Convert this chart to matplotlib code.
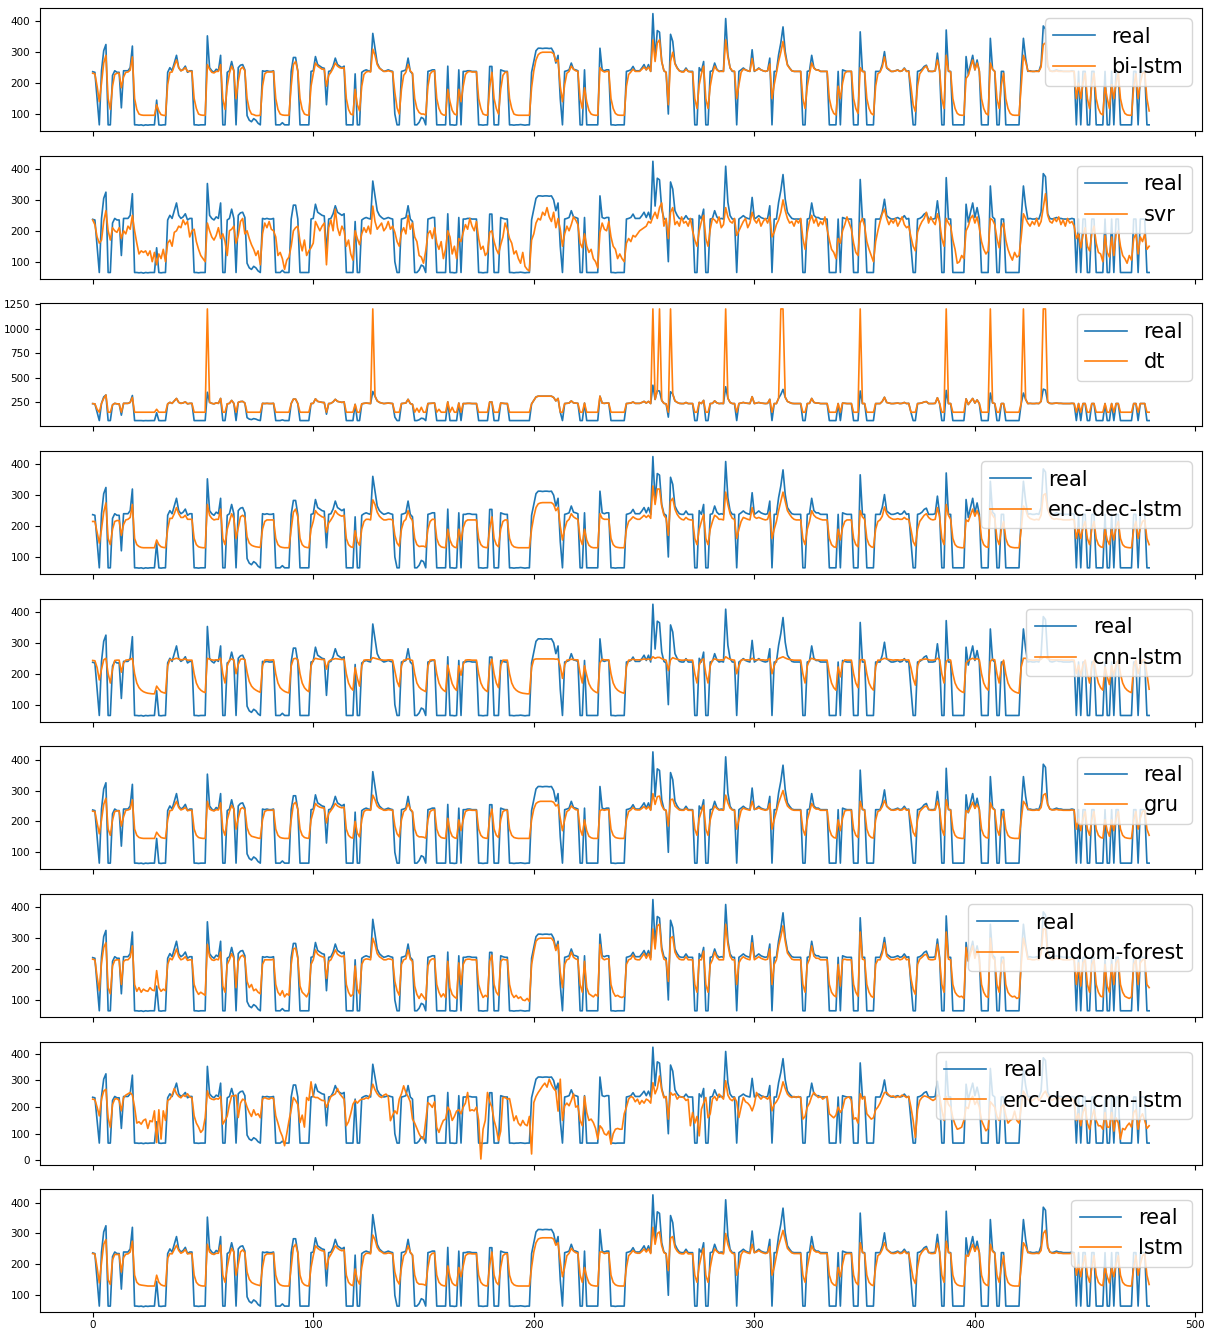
import numpy as np
import matplotlib
matplotlib.use("Agg")
import matplotlib.pyplot as plt
from matplotlib.ticker import MultipleLocator

# observed series (shared by every panel)
real = [
    237,235,150,65,240,305,325,65,65,225,240,235,235,120,240,240,240,250,320,65,
    65,64,65,63,65,64,65,65,65,145,65,64,65,65,235,250,240,265,290,250,
    240,245,255,235,240,240,65,65,64,65,65,65,353,250,240,235,245,240,290,65,
    65,235,240,270,240,65,250,258,260,243,95,80,75,85,80,70,65,240,238,240,
    238,238,240,65,65,65,72,65,65,65,238,283,283,238,65,65,65,65,65,238,
    240,286,260,255,250,248,130,238,240,255,281,260,255,250,255,65,65,65,65,230,
    65,65,235,240,243,240,238,361,313,265,250,243,238,240,243,240,238,100,65,65,
    238,240,243,281,238,230,65,65,73,89,85,65,238,240,243,243,65,65,65,65,
    65,255,65,65,64,65,243,65,238,238,240,240,238,238,238,65,65,64,65,65,
    254,254,65,65,65,243,240,238,238,65,65,64,65,65,66,65,64,65,65,235,
    270,305,313,313,312,313,313,312,313,300,265,290,150,65,238,240,243,265,245,243,
    240,65,65,243,65,65,65,65,65,65,313,243,240,243,243,65,65,64,65,65,
    65,65,238,240,243,254,240,240,240,249,260,243,260,238,425,280,370,365,270,240,
    235,100,358,335,265,250,240,238,238,249,238,238,238,65,65,250,238,270,65,65,
    238,240,265,245,238,240,238,409,292,249,238,238,65,238,243,249,243,240,238,308,
    238,243,249,243,240,238,240,281,65,238,238,292,330,382,302,260,249,240,238,238,
    238,238,65,65,238,240,290,250,243,243,238,238,238,238,65,65,65,65,238,65,
    243,240,238,238,238,65,65,65,366,238,238,65,65,65,65,238,238,238,260,302,
    249,243,238,238,240,243,238,240,249,238,240,150,65,65,238,240,245,254,258,238,
    238,238,240,297,238,65,65,372,238,238,65,65,65,65,65,65,286,228,260,290,
    243,275,238,65,65,65,65,345,245,238,65,65,238,238,65,65,65,65,65,65,
    65,240,345,281,238,240,238,238,240,238,260,385,375,255,240,238,240,243,240,240,
    238,238,238,238,240,238,65,238,65,238,238,65,65,238,238,65,65,65,65,238,
    65,65,238,65,238,238,65,65,65,65,65,65,238,238,65,238,238,238,65,65,
]

bi_lstm = [
    232,230,190,140,200,265,290,150,115,190,228,232,232,185,220,235,236,242,285,150,
    115,100,97,96,96,96,96,96,96,130,110,98,96,95,195,235,236,255,275,250,
    240,243,250,238,238,238,150,118,100,97,96,96,260,245,235,233,238,238,260,150,
    115,190,232,255,240,150,205,245,252,240,150,115,100,98,95,95,96,190,230,236,
    236,236,238,150,115,100,97,96,96,96,190,260,270,240,150,115,100,97,96,190,
    230,265,255,250,245,245,190,225,235,248,265,255,250,248,250,150,115,100,97,180,
    130,110,190,228,236,238,236,310,290,260,248,243,238,238,240,238,236,170,120,100,
    180,225,235,260,240,232,150,118,105,100,100,97,190,230,238,240,150,118,102,97,
    96,180,140,112,100,97,180,140,190,228,236,238,236,236,236,150,118,100,97,96,
    185,235,150,118,100,180,225,235,236,150,118,100,97,96,96,96,96,96,96,185,
    240,275,292,298,300,300,300,300,300,295,270,275,190,140,195,232,238,255,245,240,
    238,150,118,185,140,112,100,97,96,96,250,240,236,238,238,150,118,102,97,96,
    96,96,190,228,236,245,238,238,238,245,252,243,252,238,340,270,330,340,270,240,
    235,130,270,300,262,248,240,236,236,245,238,236,236,150,118,195,230,255,150,118,
    190,230,255,243,238,238,238,340,285,250,240,238,150,195,235,245,243,240,238,280,
    240,242,247,243,240,238,240,262,150,195,232,270,300,335,290,258,248,240,238,238,
    238,238,150,118,190,230,265,248,243,242,238,238,238,238,150,118,102,97,190,150,
    200,232,238,238,238,150,118,102,250,238,236,150,118,102,97,190,230,236,252,285,
    250,245,238,238,240,242,238,240,247,238,238,190,130,108,190,230,240,250,255,240,
    238,238,240,275,240,150,118,290,240,236,150,118,102,97,96,96,215,225,250,275,
    243,265,240,150,118,102,97,265,245,238,150,118,195,232,150,118,102,97,96,96,
    96,190,290,270,240,238,238,238,238,238,252,325,330,260,240,238,238,240,238,238,
    238,238,238,238,238,238,150,200,150,200,232,150,118,195,232,150,118,102,97,190,
    150,118,195,150,200,232,150,118,102,97,96,96,190,230,150,200,232,236,150,110,
]

svr = [
    235,220,180,160,170,230,265,200,170,210,200,195,210,175,200,190,215,205,250,200,
    160,125,135,130,135,120,135,100,130,90,125,110,140,100,160,170,150,195,200,215,
    210,235,220,230,180,200,205,165,140,120,110,100,225,200,180,170,185,210,175,190,
    165,120,200,205,215,160,185,230,240,190,200,175,155,140,120,135,90,190,225,210,
    230,205,200,180,120,130,110,75,105,115,150,200,210,215,165,135,170,120,135,145,
    160,230,215,200,215,225,90,210,235,200,270,210,185,215,200,150,170,125,105,200,
    175,155,190,210,195,215,190,280,230,205,215,225,200,210,230,205,215,195,165,150,
    195,210,190,250,205,225,180,165,120,115,95,135,190,200,175,210,160,140,165,110,
    140,200,180,125,150,110,175,165,195,220,205,240,215,200,230,175,140,150,120,130,
    195,200,165,140,125,155,180,225,205,175,160,125,135,110,95,130,85,75,70,170,
    190,225,240,235,260,250,275,245,230,260,210,240,205,150,190,215,200,220,245,235,
    220,160,145,190,150,130,140,110,100,80,195,225,205,200,230,180,150,140,110,125,
    110,100,160,175,165,185,180,190,200,205,210,215,230,225,245,260,240,275,290,215,
    240,175,260,275,220,230,215,245,225,230,215,240,200,170,150,200,230,250,175,150,
    205,240,235,225,245,210,220,275,245,230,225,240,185,200,215,230,240,210,225,260,
    235,225,240,215,230,240,225,245,180,195,220,235,260,300,265,240,225,230,215,235,
    225,240,175,140,195,230,250,225,240,215,230,220,245,205,170,140,130,110,175,160,
    200,220,245,225,205,160,130,120,225,240,215,165,140,120,100,165,200,230,255,270,
    240,220,235,225,240,215,230,245,220,210,215,180,150,135,195,215,230,240,260,225,
    245,230,220,255,230,175,150,240,225,215,170,140,95,100,120,110,200,215,240,250,
    225,245,210,165,140,125,135,240,235,220,175,145,210,225,170,140,120,105,130,115,
    120,180,255,240,225,215,230,220,240,215,230,275,320,250,230,225,240,230,245,220,
    235,215,240,225,230,215,175,190,145,185,210,150,135,190,215,160,130,125,100,185,
    130,115,180,120,190,200,150,120,110,95,120,105,175,190,125,180,165,190,140,150,
]

dt = [
    237,235,180,150,240,290,325,150,150,225,240,235,235,150,240,240,240,250,300,150,
    150,150,150,150,150,150,150,150,150,180,150,150,150,150,235,250,240,265,290,250,
    240,245,255,235,240,240,150,150,150,150,150,150,1200,250,240,235,245,240,290,150,
    150,235,240,270,240,150,250,258,260,243,150,150,150,150,150,150,150,240,238,240,
    238,238,240,150,150,150,150,150,150,150,238,283,283,238,150,150,150,150,150,238,
    240,286,260,255,250,248,150,238,240,255,281,260,255,250,255,150,150,150,150,230,
    150,150,235,240,243,240,238,1200,313,265,250,243,238,240,243,240,238,150,150,150,
    238,240,243,281,238,230,150,190,150,200,150,150,238,240,243,243,150,180,150,150,
    150,255,150,200,150,150,243,150,238,238,240,240,238,238,238,150,150,150,150,150,
    254,254,150,150,150,243,240,238,238,150,150,150,150,150,150,150,150,150,150,235,
    270,305,313,313,312,313,313,312,313,300,265,290,150,150,238,240,243,265,245,243,
    240,150,150,243,150,150,150,150,150,150,313,243,240,243,243,150,150,150,150,150,
    150,150,238,240,243,254,240,240,240,249,260,243,260,238,1200,280,370,1200,270,240,
    235,150,1200,335,265,250,240,238,238,249,238,238,238,150,150,250,238,270,150,150,
    238,240,265,245,238,240,238,1200,292,249,238,238,150,238,243,249,243,240,238,308,
    238,243,249,243,240,238,240,281,150,238,238,292,1200,1200,302,260,249,240,238,238,
    238,238,150,150,238,240,290,250,243,243,238,238,238,238,150,150,150,150,238,150,
    243,240,238,238,238,150,150,150,1200,238,238,150,150,150,150,238,238,238,260,302,
    249,243,238,238,240,243,238,240,249,238,240,150,150,150,238,240,245,254,258,238,
    238,238,240,297,238,150,150,1200,238,238,150,150,150,150,150,150,286,228,260,290,
    243,275,238,150,150,150,150,1200,245,238,150,150,238,238,150,150,150,150,150,150,
    150,240,1200,281,238,240,238,238,240,238,260,1200,1200,255,240,238,240,243,240,240,
    238,238,238,238,240,238,150,238,150,238,238,150,150,238,238,150,150,150,150,238,
    150,150,238,150,238,238,150,150,150,150,150,150,238,238,150,238,238,238,150,150,
]

enc_dec_lstm = [
    215,215,180,145,190,245,275,160,140,190,215,218,218,170,205,220,222,228,270,160,
    140,134,131,130,130,130,130,130,130,155,140,133,131,130,190,225,225,240,260,240,
    228,228,235,222,222,222,160,140,133,131,130,130,270,235,225,220,222,222,255,160,
    140,190,215,240,225,160,195,230,235,228,165,145,138,135,133,132,131,190,215,220,
    220,220,220,160,140,133,131,130,130,130,190,245,255,230,160,140,133,131,130,190,
    215,250,240,235,230,228,180,210,220,232,250,240,235,232,235,160,140,133,131,185,
    150,138,190,215,222,222,220,285,270,245,232,225,220,220,222,222,220,170,145,135,
    190,215,222,250,228,218,160,140,134,135,135,132,190,215,222,222,160,140,133,131,
    130,190,155,138,132,130,190,155,195,215,220,220,220,220,220,160,140,133,131,130,
    190,230,160,140,133,190,215,220,220,160,140,133,131,130,130,130,130,130,130,190,
    230,260,272,275,276,276,276,276,276,270,250,260,200,155,190,215,222,240,230,225,
    222,160,140,190,155,138,132,130,130,130,240,225,222,222,222,160,140,133,131,130,
    130,130,190,215,222,230,225,222,222,228,235,228,235,225,330,270,320,320,265,235,
    225,170,280,290,255,238,228,222,220,228,222,220,220,160,140,190,215,238,160,140,
    190,215,235,230,222,222,220,310,270,240,225,222,160,190,215,228,225,222,220,260,
    230,225,228,225,222,220,222,245,160,190,215,250,280,310,280,250,238,228,222,220,
    220,220,160,140,190,215,250,235,228,225,222,220,220,220,160,140,133,131,190,155,
    195,215,220,220,220,160,140,133,250,230,222,160,140,133,131,190,215,220,232,262,
    240,230,225,222,222,224,222,222,228,222,222,190,150,136,190,215,225,235,240,228,
    222,220,222,260,230,160,140,270,235,222,160,140,133,131,130,130,220,215,235,255,
    232,250,230,160,140,133,131,250,235,225,160,140,190,215,160,140,133,131,130,130,
    130,190,265,255,232,225,222,220,222,220,235,300,305,255,235,225,222,224,222,222,
    220,220,220,220,222,220,160,195,160,195,215,160,140,190,215,160,140,133,131,190,
    155,140,190,155,195,215,160,140,133,131,130,130,190,215,160,195,215,220,160,140,
]

cnn_lstm = [
    243,242,220,180,215,245,250,200,170,215,243,244,244,205,235,244,245,246,250,200,
    170,155,147,142,139,137,136,135,135,160,150,142,139,137,225,246,245,248,250,248,
    245,246,248,244,244,244,200,170,155,147,142,139,250,247,245,244,245,245,250,200,
    170,225,244,248,245,200,230,247,248,246,205,175,160,152,147,143,140,225,244,245,
    244,244,245,200,170,155,148,143,140,138,225,248,250,246,200,170,155,147,142,225,
    244,250,248,247,246,246,215,240,245,247,249,248,247,246,247,200,170,155,147,220,
    185,160,225,244,245,245,244,252,250,248,246,245,244,244,245,245,244,210,175,158,
    225,244,245,249,245,243,200,170,157,150,146,142,225,244,245,245,200,170,155,147,
    142,228,195,168,154,146,226,195,230,244,245,245,244,244,244,200,170,155,147,142,
    225,247,200,170,155,226,244,244,244,200,170,155,147,142,139,137,136,135,135,220,
    246,248,248,248,248,248,248,248,248,248,247,248,225,185,228,244,245,247,246,245,
    245,200,170,226,195,168,154,146,141,138,235,247,245,245,245,200,170,155,147,142,
    139,137,222,244,245,247,245,245,245,246,248,246,248,245,255,250,253,253,249,246,
    244,210,245,252,249,247,245,244,244,246,244,244,244,200,170,228,244,248,200,170,
    225,244,248,246,244,245,244,255,250,247,245,244,200,225,244,246,245,245,244,250,
    245,245,246,245,245,244,245,249,200,225,244,249,252,255,251,248,246,245,244,244,
    244,244,200,170,225,244,250,247,245,245,244,244,244,244,200,170,155,147,222,190,
    235,245,244,244,244,200,170,155,245,246,244,200,170,155,147,222,244,244,247,250,
    248,246,245,244,245,245,244,245,246,244,245,220,185,163,225,244,246,247,248,245,
    244,244,245,250,246,200,170,240,246,244,200,170,155,147,142,139,235,242,247,250,
    246,249,245,200,170,155,147,240,247,245,200,170,225,244,200,170,155,147,142,139,
    137,222,250,250,246,245,244,244,245,244,247,253,254,249,246,245,245,245,245,245,
    244,244,244,244,245,244,200,228,195,228,244,200,170,225,244,200,170,155,147,222,
    190,165,226,195,230,244,200,170,155,147,142,139,222,244,200,228,244,245,200,150,
]

gru = [
    233,232,195,160,205,255,275,175,155,205,232,234,234,185,215,236,237,240,270,175,
    155,148,146,145,145,145,145,145,145,165,155,148,146,145,205,235,236,250,265,245,
    237,240,245,235,236,236,175,155,148,146,145,145,265,240,236,234,238,237,260,175,
    155,205,232,252,240,175,210,240,245,238,180,160,152,150,148,146,145,205,232,236,
    236,236,237,175,155,148,146,145,145,145,205,255,262,240,175,155,148,146,145,205,
    232,258,250,246,244,243,195,225,235,245,258,250,246,244,246,175,155,148,146,200,
    162,150,205,232,237,237,236,285,270,250,243,240,236,236,238,237,236,185,160,150,
    205,232,238,258,240,232,175,155,150,150,149,146,205,232,237,238,175,155,148,146,
    145,210,170,152,147,145,205,170,205,232,236,237,236,236,236,175,155,148,146,145,
    210,240,175,155,148,205,232,236,236,175,155,148,146,145,145,145,145,145,145,205,
    240,258,263,265,265,265,265,265,265,262,250,255,210,170,205,232,237,250,243,238,
    237,175,155,205,170,152,147,145,145,145,235,238,236,238,238,175,155,148,146,145,
    145,145,205,232,237,245,238,237,237,242,248,240,248,236,290,255,280,282,252,238,
    236,185,270,272,250,243,237,236,236,242,236,236,236,175,155,210,232,252,175,155,
    205,232,250,242,237,237,236,285,260,243,237,236,175,205,235,243,240,238,236,265,
    240,240,244,240,238,236,238,258,175,205,232,260,280,300,270,250,243,238,236,236,
    236,236,175,155,205,232,258,245,240,240,236,236,236,236,175,155,148,146,205,170,
    210,234,236,236,236,175,155,148,265,240,236,175,155,148,146,205,232,236,248,268,
    250,242,237,236,237,240,236,237,243,236,237,200,165,152,205,232,240,247,250,240,
    236,236,237,265,240,175,155,270,240,236,175,155,148,146,145,145,235,230,245,262,
    242,255,238,175,155,148,146,260,242,237,175,155,205,232,175,155,148,146,145,145,
    145,205,265,255,240,237,236,236,237,236,245,285,290,255,240,237,237,239,237,237,
    236,236,236,236,237,236,175,210,170,208,232,175,155,205,232,175,155,148,146,205,
    170,152,205,170,208,232,175,155,148,146,145,145,205,232,175,210,232,236,175,155,
]

random_forest = [
    232,230,175,130,220,270,285,140,120,210,228,230,230,150,225,230,230,238,275,150,
    128,140,125,135,130,128,140,132,130,195,140,128,135,130,215,235,230,245,265,240,
    230,233,240,228,230,230,150,130,118,125,120,115,280,240,230,228,232,230,255,145,
    125,215,230,250,235,140,225,240,245,235,160,140,150,130,135,125,120,215,230,230,
    230,230,232,150,125,115,130,110,120,115,215,265,268,235,145,125,118,110,125,215,
    230,262,248,243,240,238,170,225,230,245,262,248,243,240,243,150,125,112,118,210,
    135,120,215,230,233,232,230,300,280,250,240,235,230,230,233,232,230,160,130,115,
    215,230,233,262,232,225,145,118,105,120,110,100,210,228,233,233,150,125,110,120,
    108,225,140,118,110,105,220,150,215,230,232,232,230,230,230,150,125,108,115,110,
    225,245,150,125,115,225,232,230,230,150,120,108,115,105,110,100,98,105,95,215,
    255,290,298,300,300,300,300,300,300,290,260,280,190,140,215,230,233,255,238,233,
    230,150,125,225,140,120,115,110,118,112,280,235,230,233,233,150,125,112,115,110,
    108,112,215,230,233,245,232,230,230,240,250,235,250,230,330,265,340,345,260,232,
    228,160,300,305,255,240,232,230,230,240,230,230,230,150,125,230,230,258,150,125,
    215,230,255,238,230,230,230,345,280,242,230,230,150,220,233,240,235,232,230,285,
    230,235,240,235,232,230,232,265,150,215,230,275,305,340,290,252,242,232,230,230,
    230,230,150,125,215,232,275,242,235,235,230,230,230,230,150,125,115,110,215,145,
    230,232,230,230,230,150,125,112,320,232,230,150,125,112,108,215,230,230,250,285,
    242,235,230,230,232,235,230,232,240,230,232,170,135,118,215,232,238,245,248,232,
    230,230,232,280,232,150,125,320,232,230,150,125,115,110,112,105,270,225,250,275,
    235,262,232,150,125,112,108,300,238,230,150,125,215,230,150,125,115,110,112,105,
    108,215,300,270,232,232,230,230,232,230,250,330,330,248,232,230,232,235,232,232,
    230,230,230,230,232,230,150,220,145,220,230,150,125,215,230,150,125,112,110,215,
    145,125,215,150,220,230,150,125,112,108,105,110,215,230,150,220,230,232,150,140,
]

enc_dec_cnn_lstm = [
    230,228,200,167,230,260,267,160,124,210,230,232,225,186,235,245,250,255,245,200,
    140,145,136,150,155,120,149,145,186,67,190,80,186,150,225,230,245,270,250,240,
    235,245,240,250,238,235,167,140,125,105,115,160,261,235,230,228,232,230,240,136,
    150,167,210,242,242,245,161,215,230,225,200,180,165,190,170,175,160,230,236,232,
    230,235,232,167,140,110,90,55,100,149,190,236,225,210,142,170,125,236,225,295,
    240,236,236,230,225,225,199,220,240,245,250,270,250,240,230,130,145,175,211,225,
    215,225,230,230,235,232,250,286,265,250,240,236,245,249,240,149,170,186,175,230,
    250,280,255,240,220,155,140,120,100,85,80,150,217,210,199,220,124,105,130,150,
    155,200,186,150,165,185,190,175,200,215,255,186,190,186,200,150,5,117,150,255,
    220,200,150,120,74,110,236,236,230,232,190,149,167,140,130,150,135,130,165,24,
    217,240,255,267,280,290,275,305,285,270,260,185,305,150,205,215,205,225,250,200,
    205,150,130,240,180,150,155,142,120,80,130,120,100,95,110,61,100,117,120,117,
    117,175,200,230,240,236,220,230,211,225,215,230,225,215,292,250,271,317,265,235,
    240,155,255,245,250,230,240,238,236,225,230,130,180,140,165,92,192,215,236,160,
    175,230,240,225,249,240,230,299,245,230,224,236,220,161,200,236,220,215,205,186,
    210,255,240,230,240,236,230,240,186,210,220,235,260,295,270,249,240,236,240,236,
    240,235,155,165,200,215,240,255,245,236,240,230,236,240,175,167,160,170,200,180,
    195,230,236,238,225,155,160,140,250,230,240,175,165,155,160,190,200,215,235,255,
    255,245,240,242,236,240,238,245,242,236,240,200,150,86,190,225,236,242,240,236,
    230,225,230,245,240,190,150,240,210,200,160,135,117,120,125,150,200,195,230,240,
    210,225,200,150,130,111,120,220,210,200,165,150,200,210,170,140,150,155,185,150,
    140,200,260,245,230,220,225,230,240,225,235,250,260,240,235,225,232,230,235,230,
    225,230,235,225,230,220,150,175,130,180,200,140,117,160,190,150,130,130,117,180,
    125,125,180,110,160,140,80,120,115,130,140,125,180,190,117,160,175,150,120,130,
]

lstm = [
    235,233,190,140,205,265,280,150,135,215,232,232,232,175,222,233,234,240,275,165,
    142,135,133,132,131,130,130,130,130,165,142,134,131,130,220,235,234,248,262,245,
    236,240,248,234,235,235,165,142,134,131,130,130,265,240,234,232,236,236,262,165,
    142,190,228,252,240,165,200,240,247,238,175,152,142,138,135,133,131,190,228,234,
    234,234,236,165,142,134,131,130,130,130,190,255,265,238,165,142,134,131,130,190,
    228,260,252,247,244,243,185,220,232,245,260,252,247,244,247,165,142,134,131,185,
    150,136,190,228,236,236,234,295,280,255,244,240,235,235,237,236,234,175,148,136,
    190,228,237,260,240,230,165,142,136,136,135,132,190,228,236,237,165,142,134,131,
    130,195,160,140,133,131,190,160,195,228,234,235,234,234,234,165,142,134,131,130,
    195,240,165,142,134,190,228,234,234,165,142,134,131,130,130,130,130,130,130,190,
    240,270,282,285,286,286,286,286,286,282,262,270,210,160,190,228,236,252,243,238,
    236,165,142,190,160,140,133,131,130,130,240,240,235,237,237,165,142,134,131,130,
    130,130,190,228,236,245,238,236,236,242,250,240,250,235,320,265,300,305,260,238,
    234,180,285,290,255,243,236,234,234,242,234,234,234,165,142,195,228,252,165,142,
    190,228,250,242,236,236,234,300,265,244,236,234,165,190,232,243,240,237,235,265,
    238,240,245,240,237,235,237,258,165,190,228,262,285,310,280,252,244,237,235,235,
    235,235,165,142,190,228,260,245,240,240,235,235,235,235,165,142,134,131,190,160,
    200,232,235,235,235,165,142,134,270,240,235,165,142,134,131,190,228,234,248,270,
    250,242,236,235,236,240,235,236,243,235,236,195,155,138,190,228,240,248,252,240,
    235,235,236,268,240,165,142,275,240,235,165,142,134,131,130,130,230,226,245,265,
    242,258,238,165,142,134,131,265,242,236,165,142,190,228,165,142,134,131,130,130,
    130,190,270,258,240,236,235,235,236,235,245,300,310,258,240,236,236,239,236,236,
    235,235,235,235,236,235,165,200,160,200,228,165,142,190,228,165,142,134,131,190,
    160,140,190,160,200,228,165,142,134,131,130,130,190,228,165,200,228,234,165,135,
]

model_names = ["bi-lstm", "svr", "dt", "enc-dec-lstm", "cnn-lstm", "gru",
               "random-forest", "enc-dec-cnn-lstm", "lstm"]
predictions = [bi_lstm, svr, dt, enc_dec_lstm, cnn_lstm, gru,
               random_forest, enc_dec_cnn_lstm, lstm]

for name, p in zip(model_names, predictions):
    if len(p) != len(real):
        print("length mismatch", name, len(p))

fig, axes = plt.subplots(9, 1, figsize=(12.08, 13.35), dpi=100, sharex=True)
fig.subplots_adjust(left=0.033, right=0.995, top=0.994, bottom=0.017, hspace=0.2)

for ax, name, pred in zip(axes, model_names, predictions):
    ax.plot(np.arange(len(real)), real, color="tab:blue", lw=1.2, label="real")
    ax.plot(np.arange(len(pred)), pred, color="tab:orange", lw=1.2, label=name)
    ax.legend(loc="upper right", fontsize=15)
    ax.tick_params(labelsize=7.5)
    ax.tick_params(axis="x", pad=2)

# the dt panel is labelled every 250 in the original
axes[2].yaxis.set_major_locator(MultipleLocator(250))

fig.savefig("out.png", dpi=100)
